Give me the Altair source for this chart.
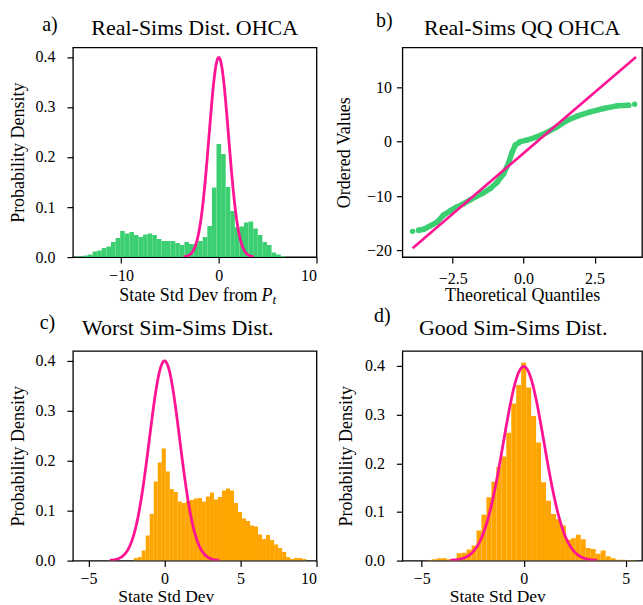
import altair as alt
import pandas as pd

FONT = "Liberation Serif"
GREEN = "#3ccf72"
ORANGE = "#ffa500"
PINK = "#ff1493"

# ---------------- data ----------------
titles = ["Real-Sims Dist. OHCA", "Real-Sims QQ OHCA", "Worst Sim-Sims Dist.", "Good Sim-Sims Dist."]
letters = ["a)", "b)", "c)", "d)"]

# panel a histogram (density per bin)
a_first_edge = -14.785
a_bin_width = 0.4694
a_density = [0.001, 0.001, 0.003, 0.005, 0.011, 0.013, 0.018, 0.021, 0.030, 0.038,
             0.052, 0.047, 0.050, 0.044, 0.040, 0.045, 0.047, 0.044, 0.036, 0.032,
             0.032, 0.032, 0.028, 0.024, 0.030, 0.026, 0.026, 0.032, 0.040, 0.062,
             0.139, 0.226, 0.206, 0.140, 0.092, 0.060, 0.061, 0.069, 0.071, 0.057,
             0.044, 0.030, 0.024, 0.009, 0.005, 0.002]

# panel c histogram
c_first_edge = -2.03
c_bin_width = 0.264
c_density = [0.005, 0.007, 0.020, 0.050, 0.093, 0.158, 0.196, 0.224, 0.178, 0.143,
             0.137, 0.118, 0.115, 0.119, 0.121, 0.124, 0.125, 0.118, 0.128, 0.136,
             0.122, 0.127, 0.140, 0.144, 0.140, 0.115, 0.097, 0.084, 0.079, 0.070,
             0.068, 0.052, 0.043, 0.051, 0.041, 0.032, 0.025, 0.017, 0.007, 0.003,
             0.005, 0.005, 0.003]

# panel d histogram
d_first_edge = -4.75
d_bin_width = 0.2435
d_density = [0.0014, 0.003, 0.005, 0.005, 0.003, 0.004, 0.015, 0.016, 0.023, 0.031,
             0.062, 0.094, 0.130, 0.162, 0.193, 0.214, 0.263, 0.323, 0.361, 0.407,
             0.356, 0.297, 0.243, 0.161, 0.123, 0.096, 0.085, 0.072, 0.043, 0.046,
             0.053, 0.044, 0.026, 0.024, 0.014, 0.021, 0.009, 0.005, 0.002, 0.002,
             0.001, 0.001]

# reference standard normal pdf (mean, sd, drawn range)
pdf_mean = 0.0
pdf_sd = 1.0
pdf_range = [-3.6, 3.6]

# panel b QQ data
qq_theoretical = [-3.91, -3.70, -3.52, -3.29, -3.05, -2.82, -2.58, -2.35, -2.11, -1.88,
                  -1.64, -1.41, -1.17, -0.94, -0.70, -0.53, -0.41, -0.29, -0.12, 0.12,
                  0.47, 0.82, 1.17, 1.53, 1.88, 2.35, 2.82, 3.29, 3.70, 3.91]
qq_ordered = [-16.5, -16.3, -16.1, -15.5, -14.8, -13.5, -12.7, -12.0, -11.4, -10.7,
              -10.0, -9.4, -8.6, -7.5, -5.9, -3.9, -2.0, -0.6, 0.0, 0.3,
              0.9, 1.7, 2.7, 3.9, 4.7, 5.5, 6.1, 6.6, 6.7, 6.9]
qq_line_x = [-3.91, 3.96]
qq_line_y = [-19.6, 15.6]

W_L, W_R, H = 244, 240, 210


def hist_df(first, width, dens):
    df = pd.DataFrame({"h": dens})
    df["x0"] = [first + i * width for i in range(len(dens))]
    df["x1"] = df["x0"] + width
    df["y0"] = 0.0
    return df


def label_layer(text, x, y, size=20):
    return alt.Chart(pd.DataFrame({"t": [text]})).mark_text(
        font=FONT, fontSize=size, color="black", align="center", baseline="middle"
    ).encode(text="t:N", x=alt.value(x), y=alt.value(y))


def title_layer(text, x, y, size=22):
    return alt.Chart(pd.DataFrame({"t": [text]})).mark_text(
        font=FONT, fontSize=size, color="black", align="center", baseline="alphabetic"
    ).encode(text="t:N", x=alt.value(x), y=alt.value(y))


def hist_panel(df, color, xdom, ydom, xticks, xaxis_kw, ylabel_pad, ytitle_x, xlabel_pad):
    xs = alt.Scale(domain=xdom, nice=False, zero=False)
    ys = alt.Scale(domain=ydom, nice=False, zero=False)
    xax = alt.Axis(values=xticks, format="d", labelPadding=xlabel_pad, **xaxis_kw)
    yax = alt.Axis(values=[0, 0.1, 0.2, 0.3, 0.4], format=".1f", title="Probability Density",
                   labelPadding=ylabel_pad, titleX=ytitle_x, titleBaseline="middle")
    bars = alt.Chart(df).mark_bar(color=color, clip=True, strokeWidth=0).encode(
        x=alt.X("x0:Q", scale=xs, axis=xax),
        x2="x1:Q",
        y=alt.Y("h:Q", scale=ys, axis=yax),
        y2="y0:Q",
    )
    curve = alt.Chart(alt.sequence(pdf_range[0], pdf_range[1] + 0.001, 0.04, as_="z")).transform_calculate(
        pdf=f"exp(-0.5*pow((datum.z - {pdf_mean})/{pdf_sd}, 2)) / ({pdf_sd}*sqrt(2*PI))"
    ).mark_line(color=PINK, strokeWidth=2.8, clip=True).encode(
        x=alt.X("z:Q", scale=xs, axis=xax),
        y=alt.Y("pdf:Q", scale=ys, axis=yax),
    )
    return bars, curve


# ---- panel a ----
bars_a, curve_a = hist_panel(hist_df(a_first_edge, a_bin_width, a_density), GREEN,
                             [-14.93, 10], [0, 0.419], [-10, 0, 10], {"title": None}, 12, -54, 4)
A_SHIFT = 49
xlab_a1 = alt.Chart(pd.DataFrame({"t": ["State Std Dev from"]})).mark_text(
    font=FONT, fontSize=18, color="black", align="right", baseline="alphabetic"
).encode(text="t:N", x=alt.value(A_SHIFT + 136), y=alt.value(H + 43.5))
xlab_a2 = alt.Chart(pd.DataFrame({"t": ["P"]})).mark_text(
    font=FONT, fontSize=18, color="black", align="left", baseline="alphabetic", fontStyle="italic"
).encode(text="t:N", x=alt.value(A_SHIFT + 140), y=alt.value(H + 43.5))
xlab_a3 = alt.Chart(pd.DataFrame({"t": ["t"]})).mark_text(
    font=FONT, fontSize=13, color="black", align="left", baseline="alphabetic", fontStyle="italic"
).encode(text="t:N", x=alt.value(A_SHIFT + 151), y=alt.value(H + 47))
panel_a = alt.layer(bars_a, curve_a, xlab_a1, xlab_a2, xlab_a3,
                    label_layer(letters[0], -23, -22),
                    title_layer(titles[0], W_L / 2, -12.7)).properties(width=W_L, height=H)

# ---- panel b ----
qq_df = pd.DataFrame({"q": qq_theoretical, "v": qq_ordered, "i": list(range(len(qq_theoretical)))})
qline_df = pd.DataFrame({"q": qq_line_x, "v": qq_line_y})
xs_b = alt.Scale(domain=[-4.27, 4.17], nice=False, zero=False)
ys_b = alt.Scale(domain=[-21.23, 17.35], nice=False, zero=False)
xax_b = alt.Axis(values=[-2.5, 0, 2.5], format=".1f", labelPadding=7, title="Theoretical Quantiles",
                 titleY=43.3, titleBaseline="alphabetic")
yax_b = alt.Axis(values=[-20, -10, 0, 10], format="d", labelPadding=5, title="Ordered Values",
                 titleX=-58, titleBaseline="middle")
band_b = alt.Chart(qq_df).transform_filter("datum.i > 0 && datum.i < 29").mark_line(
    color=GREEN, strokeWidth=5.5, strokeCap="round", strokeJoin="round").encode(
    x=alt.X("q:Q", scale=xs_b, axis=xax_b), y=alt.Y("v:Q", scale=ys_b, axis=yax_b))
pts_b = alt.Chart(qq_df).mark_circle(color=GREEN, opacity=1, size=30).encode(
    x=alt.X("q:Q", scale=xs_b, axis=xax_b), y=alt.Y("v:Q", scale=ys_b, axis=yax_b))
line_b = alt.Chart(qline_df).mark_line(color=PINK, strokeWidth=2.6).encode(
    x=alt.X("q:Q", scale=xs_b, axis=xax_b), y=alt.Y("v:Q", scale=ys_b, axis=yax_b))
panel_b = alt.layer(band_b, pts_b, line_b,
                    label_layer(letters[1], -18, -26),
                    title_layer(titles[1], W_R / 2, -12.7)).properties(width=W_R, height=H)

# ---- panel c ----
bars_c, curve_c = hist_panel(hist_df(c_first_edge, c_bin_width, c_density), ORANGE,
                             [-6.03, 10], [0, 0.419], [-5, 0, 5, 10],
                             {"title": "State Std Dev", "titleY": 40.5, "titleX": 93,
                              "titleBaseline": "alphabetic", "titleAlign": "center",
                              "titleFontSize": 17.5},
                             12, -54, 4)
panel_c = alt.layer(bars_c, curve_c,
                    label_layer(letters[2], -25.5, -28),
                    title_layer(titles[2], 105, -16)).properties(width=W_L, height=H)

# ---- panel d ----
bars_d, curve_d = hist_panel(hist_df(d_first_edge, d_bin_width, d_density), ORANGE,
                             [-5.95, 5.8], [0, 0.431], [-5, 0, 5],
                             {"title": "State Std Dev", "titleY": 40.5, "titleX": 95,
                              "titleBaseline": "alphabetic", "titleAlign": "center",
                              "titleFontSize": 17.5},
                             12, -56, 4)
panel_d = alt.layer(bars_d, curve_d,
                    label_layer(letters[3], -20, -35),
                    title_layer(titles[3], 111, -16)).properties(width=W_R, height=H)

chart = alt.concat(panel_a, panel_b, panel_c, panel_d, columns=2,
                   spacing={"row": 94, "column": 86}, bounds="flush").properties(
    padding={"left": 9, "top": 10, "right": 0, "bottom": 0},
    background="white",
).configure_view(stroke="black", strokeWidth=1.3).configure_axis(
    labelFont=FONT, labelFontSize=16, labelColor="black",
    titleFont=FONT, titleFontSize=18, titleFontWeight="normal", titleColor="black",
    tickColor="black", tickSize=6, tickWidth=1.2, domain=False, grid=False,
)

chart.save("out.html", embed_options={"renderer": "svg", "actions": False})
